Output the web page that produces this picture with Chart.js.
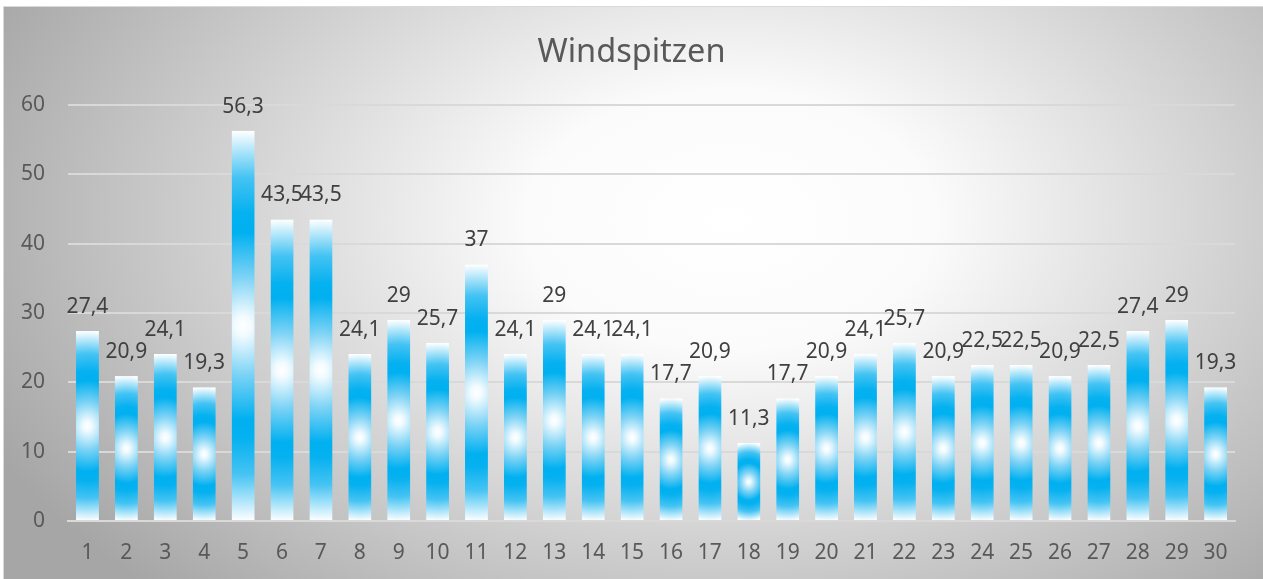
<!DOCTYPE html>
<html>
<head>
<meta charset="utf-8">
<script src="https://cdn.jsdelivr.net/npm/chart.js@4.4.1/dist/chart.umd.min.js"></script>
<style>
  html, body { margin: 0; padding: 0; background: #ffffff; }
  #wrap { width: 1263px; height: 579px; }
</style>
</head>
<body>
<div id="wrap"><canvas id="c" width="1263" height="579"></canvas></div>
<script>
const categories = ['1','2','3','4','5','6','7','8','9','10','11','12','13','14','15','16','17','18','19','20','21','22','23','24','25','26','27','28','29','30'];
const windspitzen = [27.4,20.9,24.1,19.3,56.3,43.5,43.5,24.1,29,25.7,37,24.1,29,24.1,24.1,17.7,20.9,11.3,17.7,20.9,24.1,25.7,20.9,22.5,22.5,20.9,22.5,27.4,29,19.3];
const yTicks = [0,10,20,30,40,50,60];
const chartTitle = 'Windspitzen';

const FONT = "'Noto Sans', 'Open Sans', sans-serif";
const BAR_FRACTION = 0.588;

const patternCache = {};
function barPattern(chart, idx, x0, y0, w, h) {
  const key = [x0, y0, w, h].map(v => v.toFixed(1)).join(',');
  if (patternCache[idx] && patternCache[idx].key === key) return patternCache[idx].pat;
  const W = Math.max(1, Math.ceil(w) + 2), H = Math.max(1, Math.ceil(h) + 2);
  const off = document.createElement('canvas');
  off.width = W; off.height = H;
  const o = off.getContext('2d');
  const ry = Math.max(1, h / 2), rx = ry * 0.85;
  o.save();
  o.translate(w / 2, h / 2);
  o.scale(rx / ry, 1);
  const g = o.createRadialGradient(0, 0, 0, 0, 0, ry);
  g.addColorStop(0, '#ffffff');
  g.addColorStop(0.05, '#f2fbff');
  g.addColorStop(0.25, '#7dd3f5');
  g.addColorStop(0.48, '#00b0f0');
  g.addColorStop(0.58, '#06b1f0');
  g.addColorStop(0.76, '#45c3f3');
  g.addColorStop(1, '#ffffff');
  o.fillStyle = g;
  o.fillRect(-1e6, -H * 2, 2e6, H * 4);
  o.restore();
  const pat = chart.ctx.createPattern(off, 'no-repeat');
  pat.setTransform(new DOMMatrix([1, 0, 0, 1, x0, y0]));
  patternCache[idx] = { key, pat };
  return pat;
}

const bgPlugin = {
  id: 'bg',
  beforeDraw(chart) {
    const ctx = chart.ctx;
    ctx.save();
    ctx.fillStyle = '#ffffff';
    ctx.fillRect(0, 0, chart.width, chart.height);
    ctx.beginPath();
    ctx.rect(4, 7, chart.width - 4, chart.height - 7);
    ctx.clip();
    ctx.translate(730, 220);
    ctx.scale(820 / 520, 1);
    const g = ctx.createRadialGradient(0, 0, 0, 0, 0, 520);
    g.addColorStop(0, '#ffffff');
    g.addColorStop(0.25, '#fbfbfb');
    g.addColorStop(1, '#a6a6a6');
    ctx.fillStyle = g;
    ctx.fillRect(-1000, -1000, 2000, 2000);
    ctx.restore();
    ctx.save();
    ctx.strokeStyle = '#d9d9d9';
    ctx.lineWidth = 1;
    ctx.beginPath();
    ctx.moveTo(3.5, chart.height);
    ctx.lineTo(3.5, 6.5);
    ctx.lineTo(chart.width, 6.5);
    ctx.stroke();
    ctx.restore();
  }
};

const labelPlugin = {
  id: 'valueLabels',
  afterDatasetsDraw(chart) {
    const ctx = chart.ctx;
    const meta = chart.getDatasetMeta(0);
    ctx.save();
    ctx.font = '21px ' + FONT;
    ctx.fillStyle = '#404040';
    ctx.textAlign = 'center';
    ctx.textBaseline = 'alphabetic';
    meta.data.forEach((el, i) => {
      const v = chart.data.datasets[0].data[i];
      ctx.fillText(String(v).replace('.', ','), el.x, el.y - 18);
    });
    ctx.restore();
  }
};

new Chart(document.getElementById('c'), {
  type: 'bar',
  data: {
    labels: categories,
    datasets: [{
      label: chartTitle,
      data: windspitzen,
      categoryPercentage: 1,
      barPercentage: BAR_FRACTION,
      borderWidth: 0,
      backgroundColor: (c) => {
        const chart = c.chart;
        if (!chart.chartArea || c.type !== 'data') return '#00b0f0';
        const xs = chart.scales.x, ys = chart.scales.y;
        const cx = xs.getPixelForValue(c.dataIndex);
        const top = ys.getPixelForValue(c.raw);
        const base = ys.getPixelForValue(0);
        const w = (xs.getPixelForValue(1) - xs.getPixelForValue(0)) * BAR_FRACTION;
        return barPattern(chart, c.dataIndex, cx - w / 2, top, w, base - top);
      }
    }]
  },
  options: {
    responsive: false,
    animation: false,
    devicePixelRatio: 1,
    layout: { padding: 0 },
    plugins: {
      legend: { display: false },
      tooltip: { enabled: false },
      title: {
        display: true,
        text: chartTitle,
        color: '#595959',
        font: { family: FONT, size: 32.5, weight: 'normal', lineHeight: 1.2 },
        padding: { top: 33, bottom: 33 }
      }
    },
    scales: {
      x: {
        grid: { display: false, drawTicks: false },
        border: { display: true, color: '#d9d9d9', width: 2 },
        ticks: { color: '#595959', font: { family: FONT, size: 21 }, padding: 19, maxRotation: 0, autoSkip: false },
        afterFit(s) { s.height = 58; }
      },
      y: {
        min: 0,
        max: 60,
        afterBuildTicks(s) { s.ticks = yTicks.map(v => ({ value: v })); },
        grid: { color: '#d9d9d9', lineWidth: 2, drawTicks: false },
        border: { display: false },
        ticks: { color: '#595959', font: { family: FONT, size: 21 }, padding: 23 },
        afterFit(s) { s.width = 68; }
      },
      yRight: {
        position: 'right',
        display: true,
        min: 0,
        max: 60,
        grid: { display: false, drawTicks: false },
        border: { display: false },
        ticks: { display: false },
        afterFit(s) { s.width = 28; }
      }
    }
  },
  plugins: [bgPlugin, labelPlugin]
});
</script>
</body>
</html>
